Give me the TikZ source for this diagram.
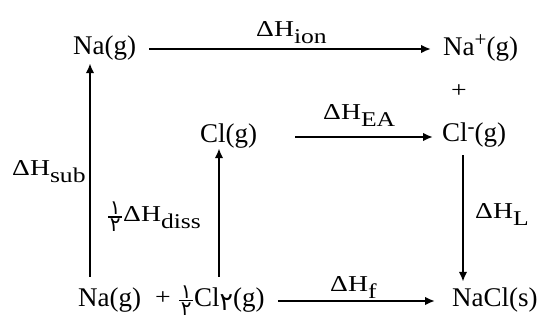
\documentclass[tikz,border=0pt]{standalone}
\usepackage{fontspec}
\setmainfont{Liberation Serif}
\newfontfamily\lblf[FakeStretch=1.22]{Liberation Serif}
\newfontfamily\pfont[Script=Arabic]{DejaVu Sans}
\usetikzlibrary{arrows.meta,calc}
\newcommand\spcf{\fontsize{27}{30}\selectfont}
\newcommand\lblfont{\lblf\fontsize{22.7}{26}\selectfont}
\newcommand\lsub[1]{\raisebox{-7pt}{\lblf\fontsize{21}{21}\selectfont #1}}
\newcommand\pdig[1]{\hbox to 14pt{\hss\pfont\fontsize{20}{20}\selectfont #1\hss}}
\newcommand\phalf{\ensuremath{\vcenter{\offinterlineskip\halign{\hfil##\hfil\cr
  \pdig{۱}\cr\noalign{\kern1.5pt\hrule height 1.4pt\kern1.5pt}\pdig{۲}\cr}}}\kern1pt}
\tikzset{
  species/.style={inner sep=0pt, anchor=base west, font=\spcf, text height=18pt, text depth=6pt},
  lbl/.style={inner sep=0pt, anchor=base west, font=\lblfont},
  arr/.style={-{Latex[length=10pt,width=8.5pt]}, line width=2.3pt}
}
\begin{document}
\begin{tikzpicture}[x=1pt,y=-1pt]
\useasboundingbox[fill=white] (0,0) rectangle (538,320);
% species
\node[species] (naT) at (73,55) {Na(g)};
\node[species] (naP) at (443,56) {Na\raisebox{9pt}{\fontsize{21}{21}\selectfont +}(g)};
\node[inner sep=0pt, font=\lblfont] (plT) at (459,91) {+};
\node[species] (clG) at (200,143) {Cl(g)};
\node[species] (clM) at (442,142) {Cl\raisebox{8pt}{\fontsize{21}{21}\selectfont -}(g)};
\node[species] (naB) at (78,307) {Na(g)};
\node[inner sep=0pt, font=\lblfont] (plB) at (163,298) {+};
\node[species] (hcl) at (179,307) {\phalf Cl\raisebox{-3pt}{\pfont\fontsize{25}{25}\selectfont ۲}(g)};
\node[species] (nacl) at (452,307) {NaCl(s)};
% labels
\node[lbl] (lion) at (256,37) {ΔH\lsub{ion}};
\node[lbl] (lEA) at (323,120) {ΔH\lsub{EA}};
\node[lbl] (lsub) at (12,176) {ΔH\lsub{sub}};
\node[lbl] (ldiss) at (108,222) {\phalf ΔH\lsub{diss}};
\node[lbl] (lL) at (475,219) {ΔH\lsub{L}};
\node[lbl] (lf) at (330,291) {ΔH\lsub{f}};
% arrows
\draw[arr] ([xshift=13pt]naT.east) -- ([xshift=-12pt]naT.east -| naP.west);
\draw[arr] ([xshift=38pt]clG.east) -- ([xshift=-9pt]clG.east -| clM.west);
\draw[arr] ([xshift=13pt]hcl.east) -- ([xshift=-17pt]nacl.west);
\draw[arr] ([xshift=12pt,yshift=12pt]naB.north west) -- ([xshift=17pt,yshift=-2pt]naT.south west);
\draw[arr] ($(clG.south west |- naB.north)+(19pt,12pt)$) -- ([xshift=19pt,yshift=1pt]clG.south west);
\draw[arr] ([xshift=21pt,yshift=-7pt]clM.south west) -- ([xshift=11pt,yshift=7pt]nacl.north west);
\end{tikzpicture}
\end{document}
